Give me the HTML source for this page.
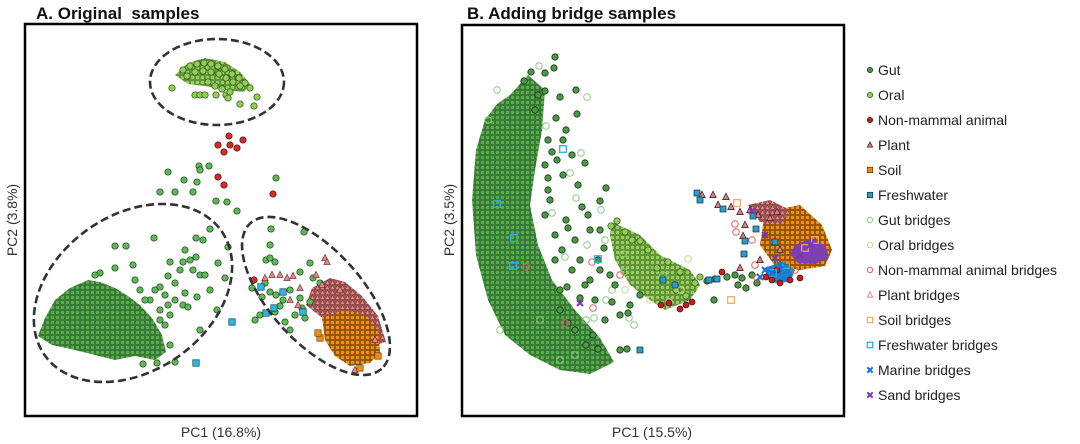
<!DOCTYPE html>
<html><head><meta charset="utf-8"><style>
html,body{margin:0;padding:0;background:#fff;}
svg{display:block;font-family:"Liberation Sans",Arial,sans-serif;}
</style></head><body>
<svg id="chart" width="1080" height="444" viewBox="0 0 1080 444">
<defs>
<pattern id="pGut" width="5" height="5" patternUnits="userSpaceOnUse"><rect width="5" height="5" fill="#3a7f35"/><circle cx="2.5" cy="2.5" r="2.3" fill="#55ad50" stroke="#25501f" stroke-width="0.5"/></pattern>
<pattern id="pOral" width="5" height="5" patternUnits="userSpaceOnUse"><rect width="5" height="5" fill="#6a9a40"/><circle cx="2.5" cy="2.5" r="2.3" fill="#95d25a" stroke="#3a5a20" stroke-width="0.5"/></pattern>
<pattern id="pPlant" width="5" height="5" patternUnits="userSpaceOnUse"><rect width="5" height="5" fill="#a05555"/><path d="M2.5 0.3 L4.8 4.5 L0.2 4.5Z" fill="#ec8c8c" stroke="#6a3030" stroke-width="0.5"/></pattern>
<pattern id="pSoil" width="5" height="5" patternUnits="userSpaceOnUse"><rect width="5" height="5" fill="#b56600"/><rect x="0.6" y="0.6" width="3.8" height="3.8" fill="#f3900f" stroke="#6a3d00" stroke-width="0.5"/></pattern>
</defs>
<text x="36" y="19" font-size="17" font-weight="bold" fill="#111" xml:space="preserve">A. Original  samples</text>
<text x="467" y="19" font-size="17" font-weight="bold" fill="#111">B. Adding bridge samples</text>
<g id="panelA"></g>
<g id="panelB"></g>
<rect x="25" y="24" width="392" height="392" fill="none" stroke="#000" stroke-width="2.5"/>
<rect x="462" y="25" width="382" height="391" fill="none" stroke="#000" stroke-width="2.5"/>
<text x="221" y="437" font-size="14" fill="#333" text-anchor="middle">PC1 (16.8%)</text>
<text transform="translate(17,220) rotate(-90)" font-size="14" fill="#333" text-anchor="middle">PC2 (3.8%)</text>
<text x="652" y="437" font-size="14" fill="#333" text-anchor="middle">PC1 (15.5%)</text>
<text transform="translate(454,220) rotate(-90)" font-size="14" fill="#333" text-anchor="middle">PC2 (3.5%)</text>
<g id="legend"></g>
</svg>
<script>
// ---- Panel A data (score units) ----
const aOralCloud=[[175,75],[188,63],[205,58],[225,62],[240,72],[250,84],[244,92],[225,90],[205,86],[188,84]];
const aGutCloud=[[38,336],[45,318],[55,300],[70,288],[88,280],[100,282],[115,288],[128,296],[140,305],[152,318],[162,335],[166,352],[155,360],[135,356],[115,360],[95,355],[75,350],[52,345]];
const aPlantCloud=[[312,288],[330,278],[345,282],[362,296],[378,316],[386,342],[372,346],[350,332],[325,320],[306,305]];
const aSoilCloud=[[322,318],[345,310],[365,315],[378,330],[380,352],[370,363],[350,366],[335,356],[325,340]];
const aOral=[[183,70],[190,66],[197,64],[204,63],[211,64],[218,66],[225,69],[232,74],[239,78],[245,83],[250,88],[187,76],[195,72],[203,71],[211,72],[219,74],[226,78],[233,82],[240,86],[172,88],[195,95],[200,95],[205,95],[216,95],[226,95],[230,92],[257,97],[240,104],[254,106],[228,98],[208,82],[215,86],[222,89]];
const aGut=[[199,166],[209,166],[200,170],[168,172],[197,182],[160,192],[175,192],[193,192],[184,180],[216,201],[227,202],[237,211],[276,178],[271,229],[270,245],[266,260],[304,232],[210,229],[203,240],[196,238],[185,250],[126,246],[115,246],[154,238],[190,260],[170,262],[140,290],[150,300],[160,310],[165,325],[170,345],[145,300],[135,280],[100,273],[95,275],[115,268],[133,265],[155,290],[165,295],[175,300],[185,293],[175,283],[168,276],[180,270],[193,270],[200,275],[160,320],[170,315],[183,305],[168,305],[210,290],[197,297],[217,310],[200,330],[188,307],[160,287],[228,247],[218,263],[225,278],[196,257],[183,262],[205,275],[143,364],[157,363],[175,362],[252,288],[262,297],[270,292],[276,295],[283,300],[290,290],[300,298],[310,302],[280,306],[275,312],[295,315],[305,318],[285,322],[290,330],[270,258],[275,262],[265,283],[300,272],[310,263],[320,283],[313,278],[302,308],[260,315],[255,320]];
const aNonMammal=[[229,136],[218,145],[230,145],[243,140],[237,148],[224,152],[218,177],[224,185],[273,194],[254,280]];
const aPlant=[[265,278],[272,275],[280,275],[287,278],[293,276],[300,288],[325,258],[327,262],[316,275],[322,285],[298,305],[290,300],[340,290],[375,340],[355,370]];
const aSoil=[[320,338],[318,333],[360,368],[378,356]];
const aFresh=[[261,287],[283,292],[274,308],[266,313],[303,312],[232,322],[196,363]];
const aEllipses=[[217,82,67,43,0],[133,293,108,78,-35],[316,296,98,46,48]];
// ---- Panel B data ----
const bGutCloud=[[510,95],[528,75],[545,90],[542,130],[535,170],[530,205],[538,245],[552,280],[575,310],[600,338],[614,362],[590,374],[560,370],[530,355],[505,335],[488,300],[476,255],[472,200],[476,150],[485,120],[497,104]];
const bOralCloud=[[612,222],[640,235],[660,255],[690,270],[700,285],[690,300],[665,310],[650,300],[630,285],[615,260],[610,235]];
const bSoilCloud=[[765,212],[800,205],[822,225],[832,250],[825,266],[800,270],[775,266],[760,245]];
const bPlantCloud=[[748,205],[770,200],[790,210],[782,225],[760,222]];
const bSandCloud=[[795,245],[812,238],[826,247],[829,258],[815,264],[798,263],[790,254]];
const bMarineCloud=[[764,268],[782,262],[795,270],[790,282],[770,283]];
const bGut=[[555,57],[554,68],[545,73],[531,72],[524,81],[545,91],[576,90],[577,114],[538,95],[560,97],[566,130],[563,140],[572,155],[557,160],[563,175],[585,163],[600,201],[582,207],[588,215],[566,220],[568,228],[604,248],[598,260],[580,260],[572,270],[590,280],[610,275],[620,315],[628,313],[598,349],[586,345],[593,335],[575,330],[568,323],[580,298],[567,287],[560,310],[606,188],[600,230],[555,235],[550,200],[548,178],[556,118],[620,350],[627,349],[707,281],[715,279],[727,277],[735,275],[742,278],[752,275],[757,283],[746,288],[738,285],[714,300],[640,295],[612,302],[548,140],[552,152],[545,215],[555,260],[562,250],[575,240],[585,285],[595,300],[605,320],[560,290],[548,190],[590,230],[578,185],[600,270],[615,285],[630,305],[535,110],[545,165]];
const bOral=[[617,221],[625,232],[611,226],[640,241],[657,268],[676,290],[686,296],[695,283],[700,277],[710,280],[632,240],[648,250],[668,262],[680,272]];
const bGutBr=[[539,66],[587,97],[546,126],[581,153],[570,173],[587,245],[624,272],[634,325],[629,318],[594,318],[606,300],[663,275],[576,198],[552,213],[601,210],[565,257],[623,254],[605,240],[586,320],[612,290],[497,90],[488,120],[540,320],[575,355],[560,360],[500,330]];
const bOralBr=[[688,259],[650,300],[625,290],[681,290],[669,302]];
const bNonMammalBr=[[526,267],[620,275],[592,262],[565,323],[593,308],[735,224],[736,232],[752,240],[757,278],[755,265],[795,270]];
const bNonMammal=[[661,305],[669,303],[680,309],[686,305],[692,302],[722,272],[772,280],[780,283],[790,280],[800,278],[777,270],[766,277]];
const bPlant=[[702,195],[713,195],[718,205],[726,197],[731,207],[740,212],[750,210],[745,225],[758,215],[770,218],[777,212],[743,236],[780,250],[760,260],[740,268]];
const bSoilBr=[[737,203],[731,300],[815,240],[805,248]];
const bFresh=[[709,280],[717,279],[744,254],[745,241],[756,229],[753,216],[723,209],[697,193],[700,200],[775,242],[663,280],[675,285],[640,350]];
const bFreshBr=[[563,149],[497,204],[514,238],[513,266],[598,259],[773,273],[786,265]];
const bMarine=[[765,270],[772,273],[780,265],[760,277]];
const bSand=[[580,303],[752,211],[765,235],[775,258],[810,245],[800,255]];
// ---- legend ----
const legendLabels=["Gut","Oral","Non-mammal animal","Plant","Soil","Freshwater","Gut bridges","Oral bridges","Non-mammal animal bridges","Plant bridges","Soil bridges","Freshwater bridges","Marine bridges","Sand bridges"];

const NS="http://www.w3.org/2000/svg";
function linScale(d0,d1,r0,r1){return v=>r0+(v-d0)/(d1-d0)*(r1-r0);}
const axA={x:linScale(25,417,25,417),y:linScale(24,416,24,416)};
const axB={x:linScale(462,844,462,844),y:linScale(25,416,25,416)};
function mk(tag,attrs,parent){const e=document.createElementNS(NS,tag);for(const k in attrs)e.setAttribute(k,attrs[k]);parent.appendChild(e);return e;}
function cloud(g,ax,pts,fill,name){
  const e=mk('polygon',{points:pts.map(p=>ax.x(p[0])+','+ax.y(p[1])).join(' '),fill:fill,stroke:'none','stroke-linejoin':'round'},g);
  
  
}
function marker(g,shape,cx,cy,fill,stroke,sw,r){
  let e;
  if(shape==='c')e=mk('circle',{cx:cx,cy:cy,r:r,fill:fill,stroke:stroke,'stroke-width':sw},g);
  else if(shape==='s')e=mk('rect',{x:cx-r,y:cy-r,width:2*r,height:2*r,fill:fill,stroke:stroke,'stroke-width':sw},g);
  else if(shape==='t')e=mk('path',{d:`M${cx} ${cy-r-0.5}L${cx+r} ${cy+r*0.8}L${cx-r} ${cy+r*0.8}Z`,fill:fill,stroke:stroke,'stroke-width':sw},g);
  else e=mk('path',{d:`M${cx-r} ${cy-r}L${cx+r} ${cy+r}M${cx+r} ${cy-r}L${cx-r} ${cy+r}`,fill:'none',stroke:stroke,'stroke-width':sw},g);
  return e;
}
function series(g,ax,pts,shape,fill,stroke,sw,r,name){
  pts.forEach(p=>{const e=marker(g,shape,ax.x(p[0]),ax.y(p[1]),fill,stroke,sw,r);
    
    });
}
const gA=document.getElementById('panelA');
cloud(gA,axA,aGutCloud,'url(#pGut)','gut-cloud');
cloud(gA,axA,aOralCloud,'url(#pOral)','oral-cloud');
cloud(gA,axA,aPlantCloud,'url(#pPlant)','plant-cloud');
cloud(gA,axA,aSoilCloud,'url(#pSoil)','soil-cloud');
series(gA,axA,aGut,'c','#5fb858','#1e3e1c',0.7,3.2,'gut-point');
series(gA,axA,aOral,'c','#8fcf55','#2d4a1a',0.7,3.2,'oral-point');
series(gA,axA,aPlant,'t','#e88585','#5a2a2a',0.6,3.2,'plant-point');
series(gA,axA,aSoil,'s','#f08a10','#5a3300',0.6,3.2,'soil-point');
series(gA,axA,aNonMammal,'c','#d42a2a','#4a1010',0.7,3.2,'non-mammal-point');
series(gA,axA,aFresh,'s','#2cb6e0','#0f4050',0.7,3.2,'freshwater-point');
aEllipses.forEach(el=>{
  const e=mk('ellipse',{cx:axA.x(el[0]),cy:axA.y(el[1]),rx:el[2],ry:el[3],transform:`rotate(${el[4]} ${axA.x(el[0])} ${axA.y(el[1])})`,fill:'none',stroke:'#333','stroke-width':2.6,'stroke-dasharray':'8 4'},gA);
  
  
});
const gB=document.getElementById('panelB');
cloud(gB,axB,bGutCloud,'url(#pGut)','gut-cloud');
cloud(gB,axB,bOralCloud,'url(#pOral)','oral-cloud');
cloud(gB,axB,bSoilCloud,'url(#pSoil)','soil-cloud');
cloud(gB,axB,bPlantCloud,'url(#pPlant)','plant-cloud');
cloud(gB,axB,bSandCloud,'#7e3fb0','sand-cloud');
cloud(gB,axB,bMarineCloud,'#1a7fd0','marine-cloud');
series(gB,axB,bGutBr,'c','none','#86cc80',1,3.3,'gut-bridge-point');
series(gB,axB,bGut,'c','#4a9a44','#1a2e18',0.8,3.2,'gut-point');
series(gB,axB,bOral,'c','#8fcf55','#2d4a1a',0.7,3.2,'oral-point');
series(gB,axB,bOralBr,'c','none','#b8e28c',1,3.3,'oral-bridge-point');
series(gB,axB,bNonMammalBr,'c','none','#e06060',1,3.3,'non-mammal-bridge-point');
series(gB,axB,bNonMammal,'c','#c41e1e','#4a1010',0.7,3,'non-mammal-point');
series(gB,axB,bPlant,'t','#d98080','#3a1a1a',0.7,3.3,'plant-point');
series(gB,axB,bSoilBr,'s','none','#f5a55a',1.2,3.3,'soil-bridge-point');
series(gB,axB,bFresh,'s','#2a9cc8','#0f3040',0.7,3,'freshwater-point');
series(gB,axB,bFreshBr,'s','none','#2ab0e8',1.3,3.3,'freshwater-bridge-point');
series(gB,axB,bMarine,'x','none','#1a6fd0',2,3,'marine-bridge-point');
series(gB,axB,bSand,'x','none','#7a35b0',2,3,'sand-bridge-point');
// legend
const lg=document.getElementById('legend');
const legendStyle=[['c','#4a9a44','#1a2e18',0.7],['c','#8fcf55','#2d4a1a',0.7],['c','#c41e1e','#4a1010',0.7],['t','#d98080','#3a1a1a',0.7],['s','#f08a10','#5a3300',0.7],['s','#2a9cc8','#0f3040',0.7],['c','none','#86cc80',1],['c','none','#b8e28c',1],['c','none','#e06060',1],['t','none','#f08a8a',1],['s','none','#f5a55a',1.2],['s','none','#2ab0e8',1.3],['x','none','#1a6fd0',2],['x','none','#7a35b0',2]];
legendLabels.forEach((lab,i)=>{
  const y=70+i*25;const st=legendStyle[i];
  const g=mk('g',{},lg);
  
  
  marker(g,st[0],870,y,st[1],st[2],st[3],2.7);
  const t=mk('text',{x:878,y:y+5,'font-size':14,fill:'#222'},g);
  t.textContent=lab;
});
</script>
</body></html>
